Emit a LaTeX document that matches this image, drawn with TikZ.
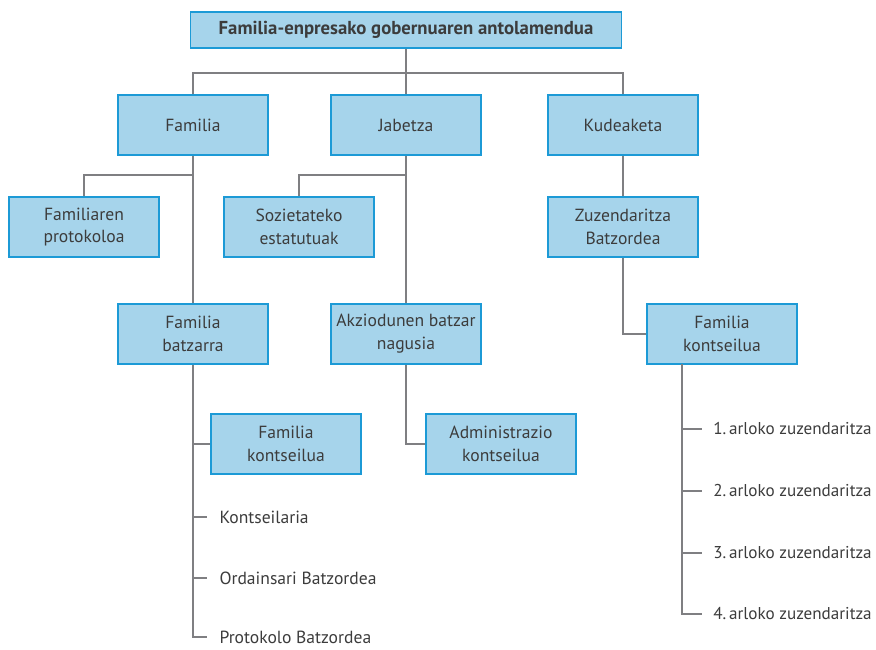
\documentclass[tikz,border=0pt]{standalone}
\usepackage{fontspec}
\setmainfont{PT Sans}
\definecolor{boxfill}{HTML}{A6D4EB}
\definecolor{boxline}{HTML}{1C9AD6}
\definecolor{linegray}{HTML}{7F7F82}
\definecolor{textgray}{HTML}{3C3C3C}
\begin{document}
\begin{tikzpicture}[x=0.03cm, y=-0.03cm,
    box/.style={draw=boxline, fill=boxfill, line width=1.1pt, minimum width=4.5cm,
      minimum height=1.8cm, align=center, text=textgray, font=\fontsize{15}{19.5}\selectfont},
    conn/.style={draw=linegray, line width=2.4pt},
    item/.style={anchor=west, inner xsep=10.5pt, text=textgray, font=\fontsize{15}{19.5}\selectfont}]
      \useasboundingbox (0,0) rectangle (876,649);
      % boxes
      \node[box, minimum width=12.93cm, minimum height=1.08cm, font=\fontsize{16}{19.5}\selectfont\bfseries] (top) at (406,30) {Familia-enpresako gobernuaren antolamendua};
      \node[box] (fam) at (193,125) {Familia};
      \node[box] (jab) at (406,125) {Jabetza};
      \node[box] (kud) at (623,125) {Kudeaketa};
      \node[box] (prot) at (84,227) {Familiaren\\protokoloa};
      \node[box] (soz) at (299,227) {Sozietateko\\estatutuak};
      \node[box] (zuz) at (623,227) {Zuzendaritza\\Batzordea};
      \node[box] (batz) at (193,334) {Familia\\batzarra};
      \node[box] (akz) at (406,334) {Akziodunen batzar\\nagusia};
      \node[box] (fkr) at (722,334) {Familia\\kontseilua};
      \node[box] (fkl) at (286,444) {Familia\\kontseilua};
      \node[box] (adm) at (501,444) {Administrazio\\kontseilua};
      % text items
      \node[item] (kon) at (207,517) {Kontseilaria};
      \node[item] (ord) at (207,578) {Ordainsari Batzordea};
      \node[item] (pbz) at (207,637) {Protokolo Batzordea};
      \foreach \i/\y in {1/429, 2/491, 3/553, 4/614}
        \node[item, inner xsep=9.5pt, font=\fontsize{14.6}{19.5}\selectfont] (arl\i) at (702,\y) {\i.\,arloko zuzendaritza};
      % connectors
      \coordinate (bar) at (406,73);
      \coordinate (fsplit) at (193,175);
      \coordinate (jsplit) at (406,175);
      \coordinate (kdown) at (682,364);
      \draw[conn] (top.south) -- (jab.north);
      \draw[conn] (fam.north) |- (kud.north |- bar) -- (kud.north);
      \draw[conn] (fam.south) -- (batz.north);
      \draw[conn] (fsplit) -| (prot.north);
      \draw[conn] (jab.south) -- (akz.north);
      \draw[conn] (jsplit) -| (soz.north);
      \draw[conn] (kud.south) -- (zuz.north);
      \draw[conn] (zuz.south) |- (fkr.west);
      \draw[conn] (akz.south) |- (adm.west);
      \draw[conn] (batz.south) |- (pbz.west);
      \draw[conn] (batz.south |- fkl.west) -- (fkl.west);
      \foreach \n in {kon, ord}
        \draw[conn] (batz.south |- \n.west) -- (\n.west);
      \draw[conn] (kdown) |- (arl4.west);
      \foreach \i in {1,2,3}
        \draw[conn] (kdown |- arl\i.west) -- (arl\i.west);
\end{tikzpicture}
\end{document}
